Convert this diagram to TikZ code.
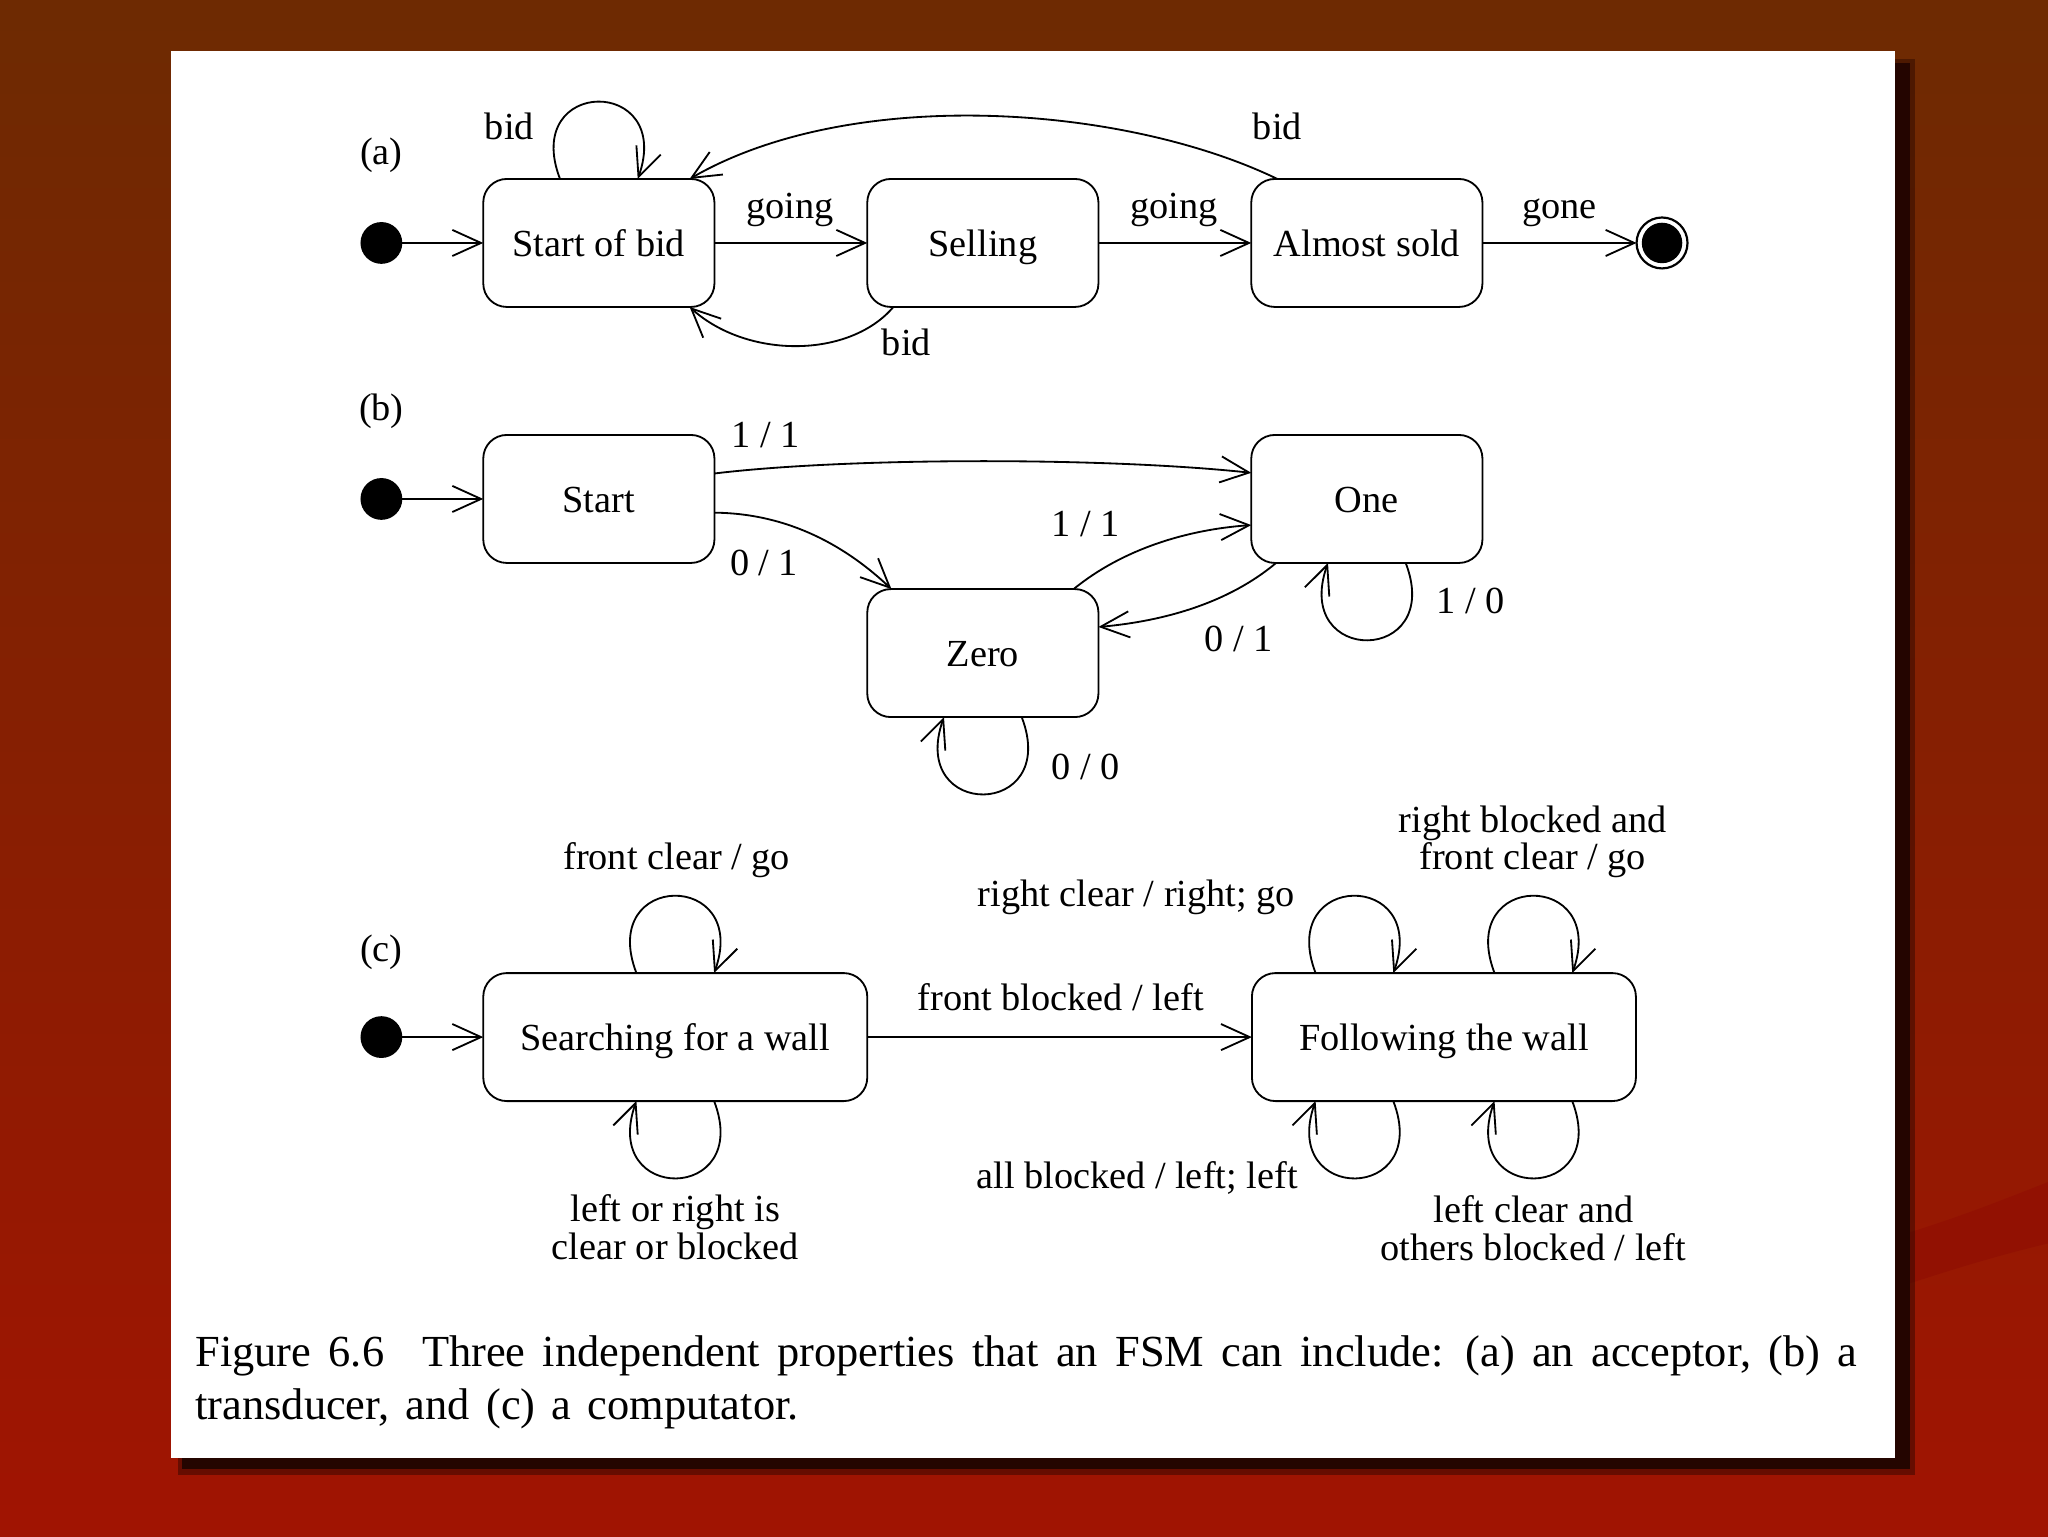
\documentclass[tikz,border=0pt]{standalone}
\usepackage{fontspec}
\setmainfont{Liberation Serif}
\usepackage{tikz}
\usetikzlibrary{arrows.meta}
\usetikzlibrary{bending}
\usetikzlibrary{calc}

\definecolor{bgtop}{RGB}{110,42,2}
\definecolor{bgbot}{RGB}{160,20,2}
\definecolor{bgband}{RGB}{146,17,2}
\definecolor{shadowdark}{RGB}{36,5,0}
\newcommand{\fsmfont}{\fontsize{8.8}{8.7}\selectfont}
\newcommand{\figcapfont}{\fontsize{10.2}{12.2}\selectfont\spaceskip=0.365em plus 0.3em minus 0.05em\relax}

\begin{document}
\begin{tikzpicture}[x=0.3pt,y=0.3pt,yscale=-1,xscale=1,
  fsmstate/.style={draw, rounded corners=5.4pt, minimum width=53.1pt, minimum height=29.4pt, text height=6.3pt, text depth=0pt, inner sep=0pt, outer sep=0pt, line width=0.42pt, font=\fsmfont},
  widestate/.style={fsmstate, minimum width=88.2pt},
  startdot/.style={circle, fill=black, minimum size=9.6pt, inner sep=0pt, outer sep=0pt},
  enddot/.style={circle, draw, line width=0.5pt, minimum size=11.7pt, inner sep=0pt, outer sep=0pt, path picture={\fill[black] (path picture bounding box.center) circle (4.65pt);}},
  trans/.style={line width=0.42pt, -{Straight Barb[length=6.6pt,width=6pt,flex]}},
  lbl/.style={font=\fsmfont, inner sep=0pt, anchor=base, align=center},
]
\useasboundingbox (0,0) rectangle (1568,1176);

%Background
\foreach \i in {0,...,48}{
  \pgfmathsetmacro{\p}{100*\i/48}
  \fill[bgbot!\p!bgtop] (0,\i*24) rectangle (1568,\i*24+24.6);
}
\fill[bgband] (1440,950) .. controls (1490,936) and (1530,920) .. (1568,905) -- (1568,952) .. controls (1530,961) and (1490,973) .. (1440,990) -- cycle;

%Page and its shadow
\fill[shadowdark, opacity=0.45] (136,45) rectangle (1466,1129);
\fill[shadowdark] (139,48) rectangle (1462,1125);
\fill[white] (131,39) rectangle (1451,1116);

% Text Node
\node[lbl] (la) at (292,126) {(a)};
\node[lbl] (lb) at (292,322) {(b)};
\node[lbl] (lc) at (292,736) {(c)};

%(a) acceptor
\node[startdot] (ia) at (292,186) {};
\node[fsmstate] (sob) at (458.5,186) {Start of bid};
\node[fsmstate] (sell) at (752.5,186) {Selling};
\node[fsmstate] (almost) at (1046.5,186) {Almost sold};
\node[enddot] (fin) at (1272.5,186) {};

%Straight Lines
\draw[trans] (ia) -- (sob);
\draw[trans] (sob) -- (sell);
\draw[trans] (sell) -- (almost);
\draw[trans] (almost) -- (fin);
%Curve Lines
\draw[trans] (sob.north) ++(-29.75,0) .. controls +(-30.25,-79) and +(30.25,-79) .. ++(59.5,0);
\draw[trans] ($(almost.north west)+(20,0)$) .. controls (860,80) and (650,65) .. ($(sob.north east)+(-19,0)$);
\draw[trans] ($(sell.south west)+(20,0)$) .. controls (650,275) and (570,275) .. ($(sob.south east)+(-19,0)$);

% Text Node
\node[lbl] at (390,106.7) {bid};
\node[lbl] at (978,106.7) {bid};
\node[lbl] at (605,167.5) {going};
\node[lbl] at (899,167.5) {going};
\node[lbl] at (1194,167) {gone};
\node[lbl] at (694,272.5) {bid};

%(b) transducer
\node[startdot] (ib) at (292,382) {};
\node[fsmstate] (start) at (458.5,382) {Start};
\node[fsmstate] (one) at (1046.5,382) {One};
\node[fsmstate] (zero) at (752.5,500) {Zero};

%Straight Lines
\draw[trans] (ib) -- (start);
%Curve Lines
\draw[trans] ($(start.east)+(0,-19.5)$) .. controls (650,350) and (850,350) .. ($(one.west)+(0,-20)$);
\draw[trans] ($(start.east)+(0,10.5)$) .. controls (600,393) and (645,415) .. ($(zero.north west)+(18.5,0)$);
\draw[trans] ($(zero.north east)+(-19,0)$) .. controls (860,420) and (910,405) .. ($(one.west)+(0,20)$);
\draw[trans] ($(one.south west)+(19,0)$) .. controls (940,462) and (890,476) .. ($(zero.east)+(0,-20)$);
\draw[trans] (one.south) ++(29.75,0) .. controls +(30.25,79) and +(-30.25,79) .. ++(-59.5,0);
\draw[trans] (zero.south) ++(29.75,0) .. controls +(30.25,79) and +(-30.25,79) .. ++(-59.5,0);

% Text Node
\node[lbl] at (586,342.3) {1 / 1};
\node[lbl] at (585,440.5) {0 / 1};
\node[lbl] at (831,411) {1 / 1};
\node[lbl] at (948.5,499) {0 / 1};
\node[lbl] at (1126,470) {1 / 0};
\node[lbl] at (831,597) {0 / 0};

%(c) computator
\node[startdot] (ic) at (292,794) {};
\node[widestate] (search) at (517,794) {Searching for a wall};
\node[widestate] (follow) at (1105.5,794) {Following the wall};

%Straight Lines
\draw[trans] (ic) -- (search);
\draw[trans] (search) -- (follow);
%Curve Lines
\draw[trans] (search.north) ++(-29.75,0) .. controls +(-30.25,-79) and +(30.25,-79) .. ++(59.5,0);
\draw[trans] (search.south) ++(29.75,0) .. controls +(30.25,79) and +(-30.25,79) .. ++(-59.5,0);
\draw[trans] (follow.north) ++(-98.25,0) .. controls +(-30.25,-79) and +(30.25,-79) .. ++(59.5,0);
\draw[trans] (follow.north) ++(38.75,0) .. controls +(-30.25,-79) and +(30.25,-79) .. ++(59.5,0);
\draw[trans] (follow.south) ++(-38.75,0) .. controls +(30.25,79) and +(-30.25,79) .. ++(-59.5,0);
\draw[trans] (follow.south) ++(98.25,0) .. controls +(30.25,79) and +(-30.25,79) .. ++(-59.5,0);

% Text Node
\node[lbl] at (812,774) {front blocked / left};
\node[lbl] at (518,666) {front clear / go};
\node[lbl] at (517,964.3) {left or right is\\clear or blocked};
\node[lbl] at (870,694) {right clear / right; go};
\node[lbl] at (1173.5,666) {right blocked and\\front clear / go};
\node[lbl] at (870.5,910) {all blocked / left; left};
\node[lbl] at (1174,964.8) {left clear and\\others blocked / left};

% Caption
\node[anchor=base west, text width=381.75pt, align=justify, inner sep=0pt, font=\figcapfont] (cap) at (149,1046.5) {Figure 6.6\hskip0.85em Three independent properties that an FSM can include: (a) an acceptor, (b) a transducer, and (c) a computator.};

\end{tikzpicture}
\end{document}
